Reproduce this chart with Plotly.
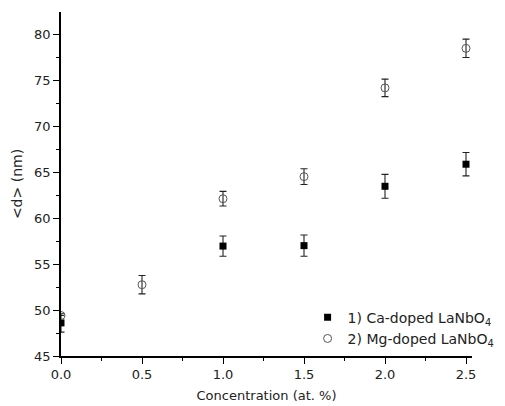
import plotly.graph_objects as go

# Data
conc_ca = [0.0, 1.0, 1.5, 2.0, 2.5]
d_ca = [48.6, 56.95, 57.0, 63.45, 65.85]
err_ca = [1.0, 1.1, 1.15, 1.3, 1.27]

conc_mg = [0.0, 0.5, 1.0, 1.5, 2.0, 2.5]
d_mg = [49.4, 52.75, 62.1, 64.5, 74.15, 78.45]
err_mg = [0.0, 1.0, 0.8, 0.85, 0.95, 1.0]

x_ticks = [0.0, 0.5, 1.0, 1.5, 2.0, 2.5]
x_tick_labels = ["0.0", "0.5", "1.0", "1.5", "2.0", "2.5"]
y_ticks = [45, 50, 55, 60, 65, 70, 75, 80]

FONT = "DejaVu Sans, sans-serif"

fig = go.Figure()
fig.add_trace(go.Scatter(
    x=conc_ca, y=d_ca, mode="markers",
    name="1) Ca-doped LaNbO<sub>4</sub>",
    marker=dict(symbol="square", size=7, color="black"),
    error_y=dict(type="data", array=err_ca, visible=True, color="#222", thickness=1.1, width=3.5),
    cliponaxis=True,
))
fig.add_trace(go.Scatter(
    x=conc_mg, y=d_mg, mode="markers",
    name="2) Mg-doped LaNbO<sub>4</sub>",
    marker=dict(symbol="circle-open", size=8, color="#555", line=dict(width=1)),
    error_y=dict(type="data", array=err_mg, visible=True, color="#222", thickness=1.1, width=3.5),
    cliponaxis=True,
))

axis_common = dict(
    showline=True, linecolor="black", linewidth=1.5,
    ticks="outside", ticklen=6, tickwidth=1.3, tickcolor="black",
    showgrid=False, zeroline=False, mirror=False, automargin=False,
    tickfont=dict(family=FONT, size=13, color="#222"),
)

fig.update_layout(
    width=505, height=406,
    margin=dict(l=61, r=33, t=12, b=50, autoexpand=False),
    paper_bgcolor="white", plot_bgcolor="white",
    font=dict(family=FONT, size=13, color="#222"),
    xaxis=dict(
        range=[0, 2.537], tickvals=x_ticks, ticktext=x_tick_labels,
        title=dict(text="Concentration (at. %)", font=dict(family=FONT, size=13, color="#222"), standoff=10),
        minor=dict(dtick=0.25, ticks="outside", ticklen=3.5, tickwidth=1.2, tickcolor="black"),
        **axis_common,
    ),
    yaxis=dict(
        range=[45, 82.4], tickvals=y_ticks,
        title=dict(text="&lt;d&gt; (nm)", font=dict(family=FONT, size=14, color="#222"), standoff=8),
        minor=dict(dtick=2.5, ticks="outside", ticklen=3.5, tickwidth=1.2, tickcolor="black"),
        **axis_common,
    ),
    legend=dict(
        x=0.6, y=0.158, xanchor="left", yanchor="top",
        bgcolor="rgba(0,0,0,0)", borderwidth=0,
        font=dict(family=FONT, size=14, color="#222"),
        itemwidth=30, tracegroupgap=0,
    ),
    showlegend=True,
)

fig.write_html("out.html")
